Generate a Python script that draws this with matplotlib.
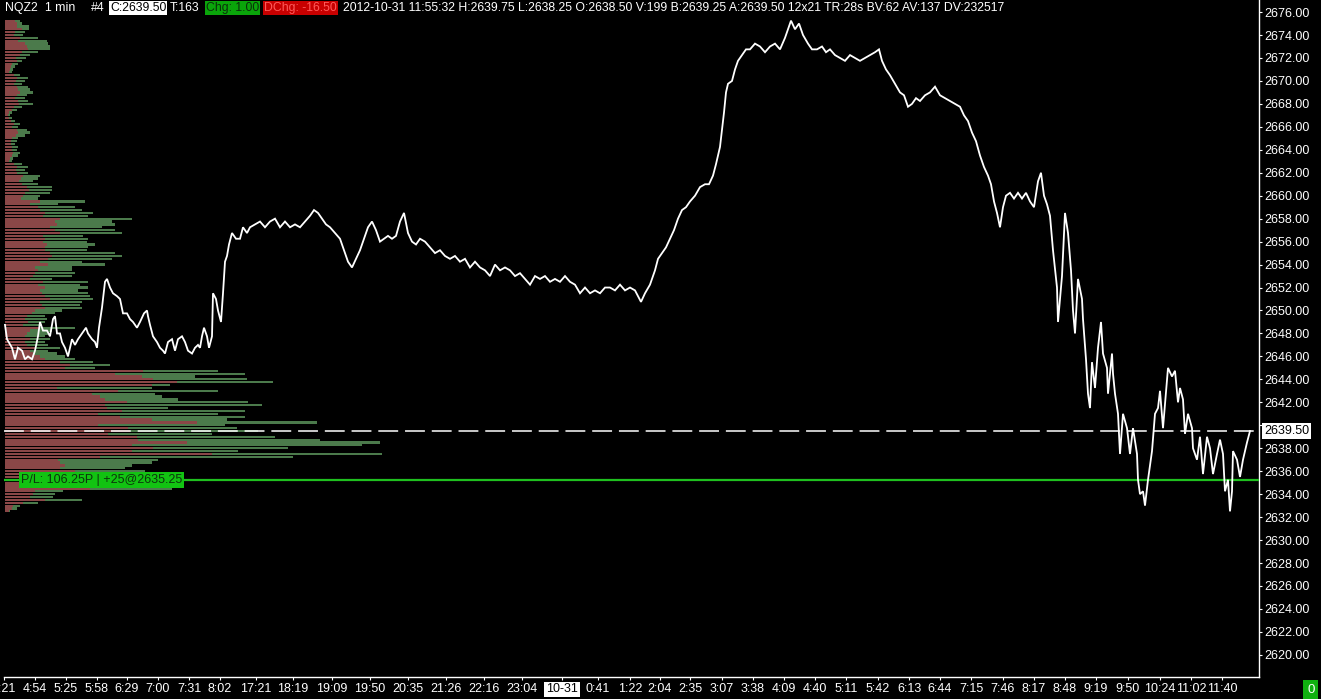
import matplotlib
matplotlib.use("Agg")
import matplotlib.pyplot as plt
import numpy as np

W, H, DPI = 1321, 699, 100
plt.rcParams['font.family'] = ['Liberation Sans', 'DejaVu Sans']

# ---------------- data ----------------
# 1-min close series: bar position (chart column) and price
bar_pos = [5, 7, 12, 15, 18, 22, 25, 28, 32, 35, 38, 40, 43, 47, 50, 53, 55, 57, 60, 62,
           65, 68, 72, 75, 78, 82, 86, 88, 92, 95, 97, 99, 102, 105, 107, 110, 113, 117, 120, 123,
           127, 130, 133, 137, 140, 144, 147, 148, 150, 153, 157, 160, 163, 165, 168, 172, 175, 178, 182, 185,
           188, 192, 195, 198, 200, 202, 204, 207, 209, 212, 213, 216, 218, 221, 223, 225, 227, 229, 232, 236,
           240, 243, 247, 250, 255, 260, 265, 270, 275, 280, 285, 290, 295, 300, 305, 310, 314, 318, 322, 326,
           330, 335, 340, 344, 348, 352, 356, 360, 364, 368, 372, 376, 380, 384, 388, 392, 396, 400, 404, 408,
           412, 416, 420, 425, 430, 435, 440, 445, 450, 455, 460, 465, 470, 475, 480, 485, 490, 495, 500, 505,
           510, 515, 520, 525, 530, 535, 540, 545, 550, 555, 560, 565, 570, 575, 580, 585, 590, 595, 600, 605,
           610, 615, 620, 625, 630, 635, 638, 641, 645, 650, 655, 658, 662, 666, 670, 674, 678, 682, 686, 690,
           695, 700, 705, 709, 713, 716, 718, 720, 722, 724, 726, 728, 732, 735, 738, 742, 746, 750, 755, 760,
           765, 770, 775, 780, 785, 788, 791, 795, 799, 803, 808, 812, 817, 822, 826, 830, 835, 840, 845, 850,
           855, 860, 865, 870, 875, 879, 882, 886, 890, 895, 900, 904, 908, 912, 916, 920, 925, 930, 935, 940,
           945, 950, 955, 960, 964, 968, 972, 976, 980, 984, 988, 991, 994, 997, 1000, 1003, 1006, 1010, 1014, 1018,
           1022, 1026, 1030, 1034, 1038, 1041, 1044, 1047, 1050, 1053, 1057, 1058, 1062, 1065, 1068, 1071, 1073, 1075, 1078, 1082,
           1083, 1086, 1088, 1090, 1092, 1095, 1098, 1101, 1103, 1107, 1108, 1112, 1113, 1115, 1118, 1120, 1123, 1127, 1130, 1133,
           1137, 1138, 1140, 1143, 1145, 1148, 1152, 1155, 1158, 1160, 1163, 1167, 1168, 1172, 1175, 1178, 1180, 1183, 1185, 1188,
           1192, 1193, 1197, 1200, 1203, 1207, 1210, 1213, 1217, 1220, 1223, 1225, 1228, 1230, 1232, 1233, 1237, 1240, 1243, 1247,
           1250]
price = [2648.75, 2647.5, 2646.75, 2645.75, 2646.75, 2646.5, 2645.75, 2646.0, 2645.75, 2646.5, 2647.75, 2649.0, 2648.25, 2648.25, 2647.75, 2649.25, 2649.5, 2648.0, 2648.0, 2647.25,
         2646.75, 2646.0, 2647.5, 2647.0, 2647.5, 2648.0, 2648.5, 2648.0, 2647.5, 2647.25, 2646.75, 2648.5, 2650.25, 2652.5, 2652.75, 2652.0, 2651.5, 2651.25, 2651.0, 2649.75,
         2649.75, 2649.25, 2649.0, 2648.5, 2649.0, 2649.75, 2650.0, 2649.5, 2648.75, 2647.75, 2647.25, 2646.75, 2646.5, 2646.25, 2647.25, 2647.5, 2646.5, 2647.5, 2647.75, 2647.25,
         2646.5, 2646.25, 2646.75, 2647.0, 2646.75, 2647.75, 2648.5, 2647.75, 2646.75, 2647.75, 2651.5, 2651.0, 2650.0, 2649.0, 2651.5, 2654.25, 2654.75, 2655.75, 2656.75, 2656.25,
         2656.25, 2657.25, 2656.75, 2657.25, 2657.5, 2657.75, 2657.25, 2657.75, 2658.0, 2657.25, 2657.75, 2657.25, 2657.5, 2657.25, 2657.75, 2658.25, 2658.75, 2658.5, 2658.0, 2657.5,
         2657.25, 2656.75, 2656.25, 2655.25, 2654.25, 2653.75, 2654.5, 2655.25, 2656.25, 2657.25, 2657.75, 2657.0, 2656.0, 2656.25, 2656.5, 2656.25, 2656.5, 2657.75, 2658.5, 2656.75,
         2656.0, 2655.75, 2656.25, 2656.0, 2655.5, 2655.0, 2655.25, 2654.75, 2654.5, 2654.75, 2654.25, 2654.5, 2653.75, 2654.25, 2653.75, 2653.5, 2653.0, 2654.0, 2653.5, 2653.75,
         2653.5, 2653.0, 2653.25, 2652.75, 2652.25, 2653.0, 2652.75, 2653.0, 2652.5, 2652.75, 2652.5, 2653.0, 2652.5, 2652.25, 2651.5, 2652.0, 2651.5, 2651.75, 2651.5, 2652.0,
         2652.0, 2651.75, 2652.25, 2651.75, 2652.0, 2651.75, 2651.25, 2650.75, 2651.5, 2652.25, 2653.5, 2654.5, 2655.0, 2655.5, 2656.25, 2657.0, 2658.0, 2658.75, 2659.0, 2659.5,
         2660.0, 2660.75, 2661.0, 2661.0, 2661.75, 2662.75, 2663.5, 2664.25, 2665.75, 2667.25, 2669.0, 2669.75, 2670.0, 2671.0, 2671.75, 2672.25, 2672.75, 2672.75, 2673.25, 2673.0,
         2672.5, 2673.0, 2673.25, 2672.75, 2673.75, 2674.5, 2675.25, 2674.5, 2675.0, 2674.0, 2673.25, 2672.75, 2672.75, 2673.0, 2672.5, 2672.75, 2672.25, 2672.0, 2671.75, 2672.25,
         2672.0, 2671.75, 2672.0, 2672.25, 2672.5, 2672.75, 2671.75, 2671.0, 2670.5, 2669.75, 2669.0, 2668.75, 2667.75, 2668.0, 2668.5, 2668.25, 2668.75, 2669.0, 2669.5, 2668.75,
         2668.5, 2668.25, 2668.0, 2667.75, 2667.0, 2666.5, 2665.5, 2664.75, 2663.5, 2662.5, 2661.75, 2661.0, 2659.5, 2658.5, 2657.25, 2659.0, 2660.0, 2660.25, 2659.75, 2660.25,
         2659.75, 2660.25, 2659.5, 2659.0, 2661.25, 2662.0, 2660.0, 2659.25, 2658.25, 2655.25, 2652.0, 2649.0, 2653.0, 2658.5, 2656.75, 2653.5, 2650.0, 2648.0, 2652.75, 2651.0,
         2649.25, 2645.75, 2642.75, 2641.5, 2645.5, 2643.25, 2646.75, 2649.0, 2646.25, 2645.0, 2642.75, 2646.25, 2644.5, 2642.75, 2641.0, 2637.5, 2641.0, 2639.75, 2637.5, 2639.75,
         2637.5, 2635.25, 2634.0, 2634.25, 2633.0, 2635.25, 2637.75, 2641.0, 2641.5, 2643.0, 2639.75, 2644.0, 2645.0, 2644.25, 2644.75, 2642.0, 2643.25, 2642.25, 2639.25, 2641.0,
         2639.75, 2638.0, 2637.0, 2639.0, 2635.75, 2639.0, 2638.0, 2635.75, 2637.5, 2638.75, 2637.5, 2634.25, 2635.25, 2632.5, 2634.25, 2637.75, 2637.0, 2635.5, 2637.0, 2638.5,
         2639.5]

# volume profile, one row per 0.25 tick from the top price downward (relative volume)
profile_top = 2675.25
tick_size = 0.25
profile_total = [15, 17, 24, 24, 20, 18, 33, 42, 43, 45, 45, 33, 25, 21, 17, 13, 10, 8, 7, 15,
                 23, 20, 17, 23, 25, 28, 22, 20, 23, 28, 17, 12, 7, 5, 7, 10, 15, 13, 22, 25,
                 20, 13, 12, 10, 13, 12, 15, 13, 8, 7, 17, 23, 20, 23, 35, 33, 28, 33, 47, 47,
                 45, 35, 33, 80, 53, 70, 77, 88, 83, 127, 107, 110, 97, 110, 117, 78, 83, 82, 90, 83,
                 82, 110, 117, 107, 77, 100, 67, 67, 70, 67, 47, 83, 75, 83, 73, 83, 85, 88, 77, 75,
                 77, 57, 50, 40, 42, 40, 37, 70, 47, 43, 40, 45, 40, 43, 55, 43, 52, 60, 70, 88,
                 105, 90, 213, 240, 190, 242, 268, 165, 147, 213, 150, 157, 173, 243, 257, 163, 240, 213, 240, 222,
                 312, 220, 232, 253, 207, 270, 315, 375, 357, 283, 233, 377, 288, 153, 147, 127, 120, 140, 110, 165,
                 130, 150, 120, 167, 58, 50, 48, 77, 33, 15, 12, 5]
profile_bid = [10, 12, 12, 17, 10, 9, 15, 13, 20, 22, 23, 17, 15, 11, 12, 7, 6, 5, 4, 9,
               12, 11, 9, 12, 13, 15, 12, 10, 13, 14, 9, 7, 4, 3, 4, 6, 9, 7, 12, 13,
               11, 7, 6, 6, 7, 7, 8, 7, 5, 4, 9, 12, 11, 12, 18, 16, 14, 17, 22, 24,
               20, 18, 16, 35, 25, 33, 35, 40, 38, 55, 50, 52, 45, 50, 55, 38, 40, 38, 42, 40,
               40, 45, 47, 43, 35, 43, 30, 33, 30, 28, 25, 38, 33, 40, 35, 37, 40, 45, 35, 37,
               40, 30, 27, 22, 20, 23, 18, 35, 25, 22, 20, 25, 20, 22, 30, 25, 28, 35, 40, 55,
               65, 60, 138, 110, 137, 148, 172, 147, 52, 113, 87, 95, 100, 122, 100, 102, 117, 93, 115, 147,
               192, 93, 123, 125, 103, 132, 133, 182, 127, 148, 127, 207, 95, 53, 55, 60, 55, 70, 55, 80,
               60, 75, 60, 85, 30, 28, 25, 40, 18, 8, 7, 4]

# axes
y_ticks = list(range(2620, 2677, 2))
x_tick_pos = [4, 35, 66, 97, 127, 158, 189, 220, 256, 293, 332, 370, 408, 446, 484, 522, 562, 598, 630,
              660, 690, 722, 753, 784, 815, 846, 878, 909, 940, 971, 1003, 1034, 1065, 1096, 1128, 1160, 1191, 1222]
x_tick_labels = ['4:21', '4:54', '5:25', '5:58', '6:29', '7:00', '7:31', '8:02', '17:21', '18:19', '19:09', '19:50',
                 '20:35', '21:26', '22:16', '23:04', '10-31', '0:41', '1:22', '2:04', '2:35', '3:07', '3:38', '4:09',
                 '4:40', '5:11', '5:42', '6:13', '6:44', '7:15', '7:46', '8:17', '8:48', '9:19', '9:50', '10:24',
                 '11:02', '11:40']
last_price = 2639.50
entry_price = 2635.25
pl_text = 'P/L: 106.25P | +25@2635.25'

# ---------------- figure ----------------
fig = plt.figure(figsize=(W / DPI, H / DPI), dpi=DPI, facecolor='black')
ax = fig.add_axes([4 / W, 22 / H, (1259 - 4) / W, (699 - 22) / H])
ax.set_facecolor('black')
ax.set_xlim(4, 1259)
ax.set_ylim(2618.07, 2677.05)

levels = profile_top - tick_size * np.arange(len(profile_total))
tot = np.array(profile_total, float)
bid = np.array(profile_bid, float)
bh = tick_size * 0.78
ax.barh(levels, bid, left=5, height=bh, color='#8a4747', linewidth=0, zorder=2)
ax.barh(levels, tot - bid, left=5 + bid, height=bh, color='#4b7a4b', linewidth=0, zorder=2)

ax.axhline(last_price, color='white', lw=1.1, dashes=(13, 4.5), zorder=3)
ax.axhline(entry_price, color='#1fbf1f', lw=1.6, zorder=3)
ax.plot(bar_pos, price, color='white', lw=1.3, zorder=4, solid_joinstyle='miter')

for s in ['top', 'left']:
    ax.spines[s].set_visible(False)
for s in ['bottom', 'right']:
    ax.spines[s].set_color('white')
    ax.spines[s].set_linewidth(1.0)

ax.yaxis.tick_right()
ax.set_yticks(y_ticks)
# the 2640.00 label sits under the last-price marker on the scale
ax.set_yticklabels(['' if abs(v - last_price) < 1 else f'{v:.2f}' for v in y_ticks])
ax.tick_params(axis='y', colors='white', labelcolor='white', length=2.5, width=0.8, pad=1.5, labelsize=9)
ax.set_xticks(x_tick_pos)
ax.set_xticklabels(x_tick_labels)
ax.tick_params(axis='x', colors='white', labelcolor='white', length=2.5, width=0.8, pad=2, labelsize=9)
for lab in ax.get_xticklabels():
    if lab.get_text() == '10-31':
        lab.set_color('black')
        lab.set_bbox(dict(facecolor='white', edgecolor='none', pad=1.2))

# current price marker on the scale
ax.annotate(f'{last_price:.2f}', xy=(1.0, last_price), xycoords=('axes fraction', 'data'),
            xytext=(3.5, 0), textcoords='offset points', va='center', ha='left', fontsize=9,
            color='black', bbox=dict(facecolor='white', edgecolor='none', pad=1.2), zorder=10,
            annotation_clip=False)

# P/L label
ax.text(21, entry_price, pl_text, va='center', ha='left', fontsize=9, color='#0c360c',
        bbox=dict(facecolor='#12c312', edgecolor='none', pad=1.5), zorder=9)


def px_text(x, y, s, size=8.8, **kw):
    fig.text(x / W, 1 - y / H, s, va='center', ha='left', fontsize=size, **kw)


# header
hy = 8
px_text(5, hy, 'NQZ2', color='white')
px_text(45, hy, '1 min', color='white')
px_text(91, hy, '#4', color='white')
px_text(110, hy, 'C:2639.50', color='black', bbox=dict(facecolor='white', edgecolor='none', pad=0.8))
px_text(170, hy, 'T:163', color='white')
px_text(206, hy, 'Chg: 1.00', color='#0a300a', bbox=dict(facecolor='#0aa50a', edgecolor='none', pad=0.8))
px_text(264, hy, 'DChg: -16.50', color='#ff5a5a', bbox=dict(facecolor='#c80000', edgecolor='none', pad=0.8))
px_text(343, hy, '2012-10-31 11:55:32 H:2639.75 L:2638.25 O:2638.50 V:199 B:2639.25 A:2639.50 '
                 '12x21 TR:28s BV:62 AV:137 DV:232517', color='white')

# bottom-right status box
px_text(1307, 690, '0', size=9.5, color='white',
        bbox=dict(facecolor='#10b010', edgecolor='none', pad=2.6))

fig.savefig('out.png', dpi=DPI, facecolor='black')
